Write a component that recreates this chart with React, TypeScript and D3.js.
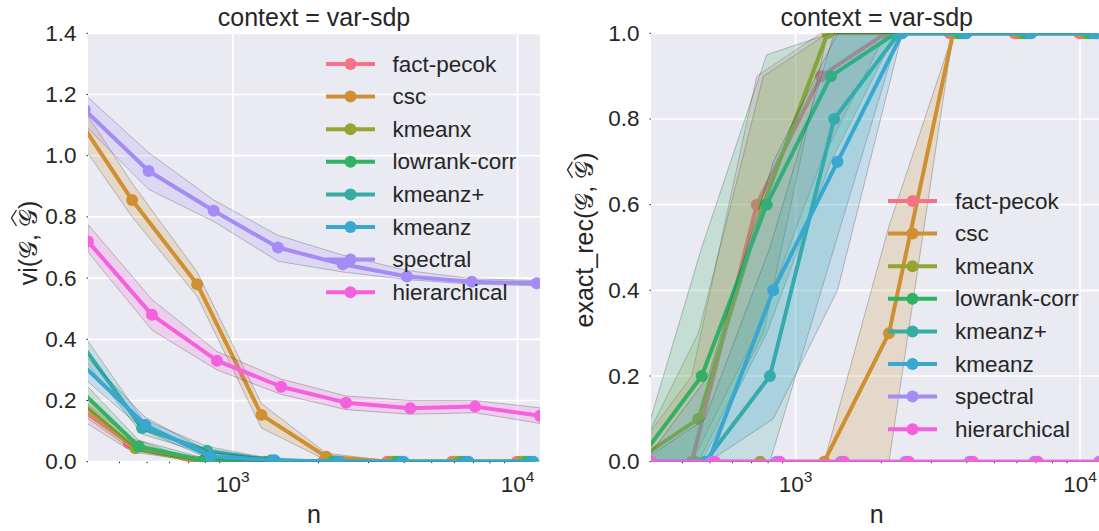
import React, { useEffect, useRef } from 'react';
import * as d3 from 'd3';

// Sample sizes (base grid) and the clustering methods compared
const nValues = [310, 520, 880, 1480, 2500, 4200, 7100, 12000];
const methods = ['fact-pecok', 'csc', 'kmeanx', 'lowrank-corr', 'kmeanz+', 'kmeanz', 'spectral', 'hierarchical'];
const palette = ['#f77189', '#ce9032', '#97a431', '#32b166', '#36ada4', '#39a7d0', '#a48cf4', '#f561dd'];

// Variation of information: mean and confidence band per method (rows follow `methods`)
const viMean = [
  [0.21, 0.06, 0.0, 0.0, 0.0, 0.0, 0.0, 0.0],
  [1.17, 0.855, 0.58, 0.153, 0.016, 0.0, 0.0, 0.0],
  [0.22, 0.044, 0.0, 0.0, 0.0, 0.0, 0.0, 0.0],
  [0.25, 0.05, 0.005, 0.0, 0.0, 0.0, 0.0, 0.0],
  [0.4, 0.11, 0.036, 0.005, 0.0, 0.0, 0.0, 0.0],
  [0.32, 0.12, 0.016, 0.005, 0.0, 0.0, 0.0, 0.0],
  [1.15, 0.95, 0.82, 0.7, 0.645, 0.605, 0.588, 0.583],
  [0.72, 0.48, 0.33, 0.245, 0.193, 0.175, 0.18, 0.15],
];
const viLow = [
  [0.17, 0.04, 0.0, 0.0, 0.0, 0.0, 0.0, 0.0],
  [1.1, 0.8, 0.54, 0.11, 0.005, 0.0, 0.0, 0.0],
  [0.18, 0.03, 0.0, 0.0, 0.0, 0.0, 0.0, 0.0],
  [0.21, 0.035, 0.0, 0.0, 0.0, 0.0, 0.0, 0.0],
  [0.36, 0.09, 0.025, 0.0, 0.0, 0.0, 0.0, 0.0],
  [0.28, 0.1, 0.008, 0.0, 0.0, 0.0, 0.0, 0.0],
  [1.1, 0.89, 0.785, 0.655, 0.62, 0.595, 0.58, 0.575],
  [0.685, 0.43, 0.3, 0.22, 0.17, 0.155, 0.16, 0.125],
];
const viHigh = [
  [0.25, 0.08, 0.005, 0.0, 0.0, 0.0, 0.0, 0.0],
  [1.23, 0.91, 0.62, 0.19, 0.028, 0.002, 0.0, 0.0],
  [0.26, 0.06, 0.004, 0.0, 0.0, 0.0, 0.0, 0.0],
  [0.29, 0.07, 0.012, 0.0, 0.0, 0.0, 0.0, 0.0],
  [0.44, 0.14, 0.05, 0.01, 0.0, 0.0, 0.0, 0.0],
  [0.36, 0.145, 0.03, 0.01, 0.0, 0.0, 0.0, 0.0],
  [1.2, 1.01, 0.855, 0.74, 0.675, 0.625, 0.598, 0.592],
  [0.775, 0.53, 0.36, 0.27, 0.215, 0.2, 0.2, 0.176],
];

// Exact recovery rate: mean and confidence band per method
const recMean = [
  [0, 0, 0.6, 0.9, 1, 1, 1, 1],
  [0, 0, 0, 0, 0.3, 1, 1, 1],
  [0, 0.1, 0.6, 1, 1, 1, 1, 1],
  [0, 0.2, 0.6, 0.9, 1, 1, 1, 1],
  [0, 0, 0.2, 0.8, 1, 1, 1, 1],
  [0, 0, 0.4, 0.7, 1, 1, 1, 1],
  [0, 0, 0, 0, 0, 0, 0, 0],
  [0, 0, 0, 0, 0, 0, 0, 0],
];
const recLow = [
  [0, 0, 0.3, 0.7, 1, 1, 1, 1],
  [0, 0, 0, 0, 0, 1, 1, 1],
  [0, 0, 0.3, 1, 1, 1, 1, 1],
  [0, 0, 0.3, 0.7, 1, 1, 1, 1],
  [0, 0, 0, 0.5, 1, 1, 1, 1],
  [0, 0, 0.1, 0.4, 1, 1, 1, 1],
  [0, 0, 0, 0, 0, 0, 0, 0],
  [0, 0, 0, 0, 0, 0, 0, 0],
];
const recHigh = [
  [0, 0.2, 0.9, 1, 1, 1, 1, 1],
  [0, 0, 0, 0, 0.55, 1, 1, 1],
  [0, 0.3, 0.9, 1, 1, 1, 1, 1],
  [0, 0.5, 0.95, 1, 1, 1, 1, 1],
  [0, 0.1, 0.5, 1, 1, 1, 1, 1],
  [0, 0.2, 0.7, 1, 1, 1, 1, 1],
  [0, 0, 0, 0, 0, 0, 0, 0],
  [0, 0, 0, 0, 0, 0, 0, 0],
];

const viTicks = [0, 0.2, 0.4, 0.6, 0.8, 1.0, 1.2, 1.4];
const recTicks = [0, 0.2, 0.4, 0.6, 0.8, 1.0];
const xMajor = [1e3, 1e4];
const xMinor = [400, 500, 600, 700, 800, 900, 2000, 3000, 4000, 5000, 6000, 7000, 8000, 9000];
const panelTitle = 'context = var-sdp';
const SCRIPT_G = '\u{1D4A2}';

const W = 1099;
const H = 531;
const TOP = 33.3;
const BOTTOM = 461.7;
const FONT = '"Liberation Sans", Arial, Helvetica, sans-serif';
const INK = '#262626';
const BG = '#EAEAF2';
// small log-space shift between methods so overlapping markers stay visible
const DODGE = 0.0116;

type Panel = {
  left: number;
  right: number;
  yMax: number;
  ticks: number[];
  mean: number[][];
  low: number[][];
  high: number[][];
  yLabel: string;
  yLabelX: number;
  yLabelY: number;
  legendHandleX: number;
  legendTextX: number;
  legendTop: number;
};

const panels: Panel[] = [
  {
    left: 88, right: 540, yMax: 1.4, ticks: viTicks,
    mean: viMean, low: viLow, high: viHigh,
    yLabel: 'vi', yLabelX: 37, yLabelY: 243,
    legendHandleX: 326, legendTextX: 392.5, legendTop: 64,
  },
  {
    left: 651, right: 1102.5, yMax: 1.0, ticks: recTicks,
    mean: recMean, low: recLow, high: recHigh,
    yLabel: 'exact_rec', yLabelX: 593, yLabelY: 240,
    legendHandleX: 888, legendTextX: 955, legendTop: 201,
  },
];

function drawMathLabel(parent: d3.Selection<SVGGElement, unknown, null, undefined>, prefix: string, cx: number, cy: number) {
  const size = 25;
  const g = parent.append('g').attr('transform', `translate(${cx},${cy}) rotate(-90)`);
  const pieces = [
    { t: prefix + '(', script: false },
    { t: SCRIPT_G, script: true },
    { t: ',\u00a0', script: false },
    { t: SCRIPT_G, script: true },
    { t: ')', script: false },
  ];
  const nodes = pieces.map((p) =>
    g.append('text')
      .attr('font-family', p.script ? '"DejaVu Serif", "DejaVu Sans", serif' : FONT)
      .attr('font-size', size)
      .attr('fill', INK)
      .attr('y', 0)
      .style('white-space', 'pre')
      .text(p.t)
  );
  const widths = nodes.map((n) => (n.node() as SVGTextElement).getComputedTextLength());
  const total = d3.sum(widths);
  let x = -total / 2;
  nodes.forEach((n, i) => {
    n.attr('x', x);
    if (i === 3) {
      const w = widths[i];
      const yTop = -size * 0.78;
      g.append('path')
        .attr('d', `M${x + 1},${yTop - 1} L${x + w / 2},${yTop - 6} L${x + w - 1},${yTop - 1}`)
        .attr('fill', 'none')
        .attr('stroke', INK)
        .attr('stroke-width', 1.3);
    }
    x += widths[i];
  });
}

export default function App() {
  const ref = useRef<SVGSVGElement | null>(null);

  useEffect(() => {
    const svg = d3.select(ref.current as SVGSVGElement);
    svg.selectAll('*').remove();
    const defs = svg.append('defs');

    panels.forEach((p, pi) => {
      const x = d3.scaleLog().domain(d3.extent(nValues) as [number, number]).range([p.left, p.right]);
      const y = d3.scaleLinear().domain([0, p.yMax]).range([BOTTOM, TOP]);
      const g = svg.append('g');

      g.append('rect')
        .attr('x', p.left).attr('y', TOP)
        .attr('width', p.right - p.left).attr('height', BOTTOM - TOP)
        .attr('fill', BG);

      // grid
      g.selectAll('.hgrid').data(p.ticks).join('line')
        .attr('x1', p.left).attr('x2', p.right)
        .attr('y1', (d) => y(d)).attr('y2', (d) => y(d))
        .attr('stroke', '#fff').attr('stroke-width', 1.7);
      g.selectAll('.vgrid').data(xMajor).join('line')
        .attr('x1', (d) => x(d)).attr('x2', (d) => x(d))
        .attr('y1', TOP).attr('y2', BOTTOM)
        .attr('stroke', '#fff').attr('stroke-width', 1.7);

      // tick marks
      g.selectAll('.ytick').data(p.ticks).join('line')
        .attr('x1', p.left - 1.5).attr('x2', p.left)
        .attr('y1', (d) => y(d)).attr('y2', (d) => y(d))
        .attr('stroke', INK).attr('stroke-width', 1);
      g.selectAll('.xminor').data(xMinor.filter((d) => x(d) <= p.right)).join('line')
        .attr('x1', (d) => x(d)).attr('x2', (d) => x(d))
        .attr('y1', BOTTOM).attr('y2', BOTTOM + 1.5)
        .attr('stroke', INK).attr('stroke-width', 1);

      // tick labels
      g.selectAll('.ylab').data(p.ticks).join('text')
        .attr('x', p.left - 11.5).attr('y', (d) => y(d))
        .attr('text-anchor', 'end').attr('dominant-baseline', 'central')
        .attr('font-family', FONT).attr('font-size', 22.5).attr('fill', INK)
        .text((d) => d3.format('.1f')(d));
      xMajor.forEach((d) => {
        const t = g.append('text')
          .attr('x', x(d)).attr('y', 492)
          .attr('text-anchor', 'middle')
          .attr('font-family', FONT).attr('font-size', 22.5).attr('fill', INK);
        t.append('tspan').text('10');
        t.append('tspan').attr('dy', -10).attr('font-size', 15.5).text(String(Math.round(Math.log10(d))));
      });

      // titles
      g.append('text')
        .attr('x', (p.left + p.right) / 2).attr('y', 26)
        .attr('text-anchor', 'middle')
        .attr('font-family', FONT).attr('font-size', 25).attr('fill', INK)
        .text(panelTitle);
      g.append('text')
        .attr('x', (p.left + p.right) / 2).attr('y', 523)
        .attr('text-anchor', 'middle')
        .attr('font-family', FONT).attr('font-size', 25).attr('fill', INK)
        .text('n');
      drawMathLabel(g, p.yLabel, p.yLabelX, p.yLabelY);

      // data
      const clipId = `plot-clip-${pi}`;
      defs.append('clipPath').attr('id', clipId).append('rect')
        .attr('x', p.left).attr('y', TOP)
        .attr('width', p.right - p.left).attr('height', BOTTOM - TOP);
      const plot = g.append('g').attr('clip-path', `url(#${clipId})`);

      methods.forEach((m, i) => {
        const shift = Math.pow(10, (i - (methods.length - 1)) * DODGE);
        const pts = nValues.map((n, k) => ({
          n: n * shift,
          v: p.mean[i][k],
          lo: p.low[i][k],
          hi: p.high[i][k],
        }));
        const band = d3.area<typeof pts[number]>()
          .x((d) => x(d.n)).y0((d) => y(d.lo)).y1((d) => y(d.hi));
        plot.append('path')
          .attr('d', band(pts) as string)
          .attr('fill', palette[i]).attr('fill-opacity', 0.2)
          .attr('stroke', '#000').attr('stroke-opacity', 0.22).attr('stroke-width', 1);
        const line = d3.line<typeof pts[number]>().x((d) => x(d.n)).y((d) => y(d.v));
        plot.append('path')
          .attr('d', line(pts) as string)
          .attr('fill', 'none').attr('stroke', palette[i])
          .attr('stroke-width', 4).attr('stroke-linejoin', 'round').attr('stroke-linecap', 'round');
        plot.selectAll(null).data(pts).join('circle')
          .attr('cx', (d) => x(d.n)).attr('cy', (d) => y(d.v)).attr('r', 6)
          .attr('fill', palette[i]);
      });

      // legend
      const lg = g.append('g');
      methods.forEach((m, i) => {
        const ly = p.legendTop + i * 32.6;
        lg.append('line')
          .attr('x1', p.legendHandleX).attr('x2', p.legendHandleX + 49)
          .attr('y1', ly).attr('y2', ly)
          .attr('stroke', palette[i]).attr('stroke-width', 4);
        lg.append('circle')
          .attr('cx', p.legendHandleX + 24.5).attr('cy', ly).attr('r', 6)
          .attr('fill', palette[i]);
        lg.append('text')
          .attr('x', p.legendTextX).attr('y', ly)
          .attr('dominant-baseline', 'central')
          .attr('font-family', FONT).attr('font-size', 22.5).attr('fill', INK)
          .text(m);
      });
    });
  }, []);

  return (
    <svg
      ref={ref}
      width={W}
      height={H}
      style={{ position: 'absolute', left: 0, top: 0, background: '#fff' }}
    />
  );
}
